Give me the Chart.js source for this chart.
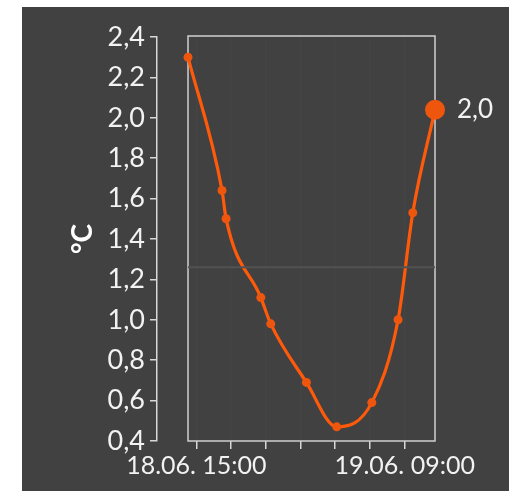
<!DOCTYPE html>
<html>
<head>
<meta charset="utf-8">
<script src="https://cdn.jsdelivr.net/npm/chart.js@4"></script>
<style>
  html, body { margin: 0; padding: 0; background: #fff; }
  #wrap { position: absolute; left: 22px; top: 7px; width: 487px; height: 484px; background: #414141; }
</style>
</head>
<body>
<div id="wrap"><canvas id="c" width="487" height="484"></canvas></div>
<script>
// hours since 18.06. 00:00
const times  = [14.28, 17.22, 17.57, 20.57, 21.43, 24.51, 27.13, 30.16, 32.43, 33.7, 35.62];
const temps  = [2.30, 1.64, 1.50, 1.11, 0.98, 0.69, 0.47, 0.59, 1.00, 1.53, 2.04];
const xTicks = [15, 18, 21, 24, 27, 30, 33];
const xTickLabels = { 15: '18.06. 15:00', 33: '19.06. 09:00' };
const yTicks = [0.4, 0.6, 0.8, 1.0, 1.2, 1.4, 1.6, 1.8, 2.0, 2.2, 2.4];
const refLine = 1.26;
const unit = '°C';

const FONT = 'Lato, "Noto Sans", sans-serif';
const comma = v => v.toFixed(1).replace('.', ',');

/* ---------- frame + last value label ---------- */
const decor = {
  id: 'decor',
  beforeDatasetsDraw(chart) {
    const { ctx, chartArea, scales: { x } } = chart;
    const l = x.getPixelForValue(times[0]);
    const r = x.getPixelForValue(times[times.length - 1]);
    ctx.save();
    ctx.strokeStyle = '#cfcfcf';
    ctx.lineWidth = 1.5;
    ctx.strokeRect(l, chartArea.top - 1, r - l, chartArea.bottom - chartArea.top + 1);
    ctx.restore();
  },
  afterDatasetsDraw(chart) {
    const { ctx } = chart;
    const meta = chart.getDatasetMeta(1);
    const pt = meta.data[meta.data.length - 1];
    ctx.save();
    ctx.fillStyle = '#f2f2f2';
    ctx.font = '400 26px ' + FONT;
    ctx.textBaseline = 'middle';
    ctx.fillText(comma(temps[temps.length - 1]), pt.x + 22, pt.y);
    ctx.restore();
  }
};

new Chart(document.getElementById('c'), {
  type: 'line',
  data: {
    datasets: [
      {
        data: [{ x: times[0], y: refLine }, { x: times[times.length - 1], y: refLine }],
        borderColor: '#525252', borderWidth: 2, pointRadius: 0
      },
      {
        data: times.map((t, i) => ({ x: t, y: temps[i] })),
        borderColor: '#ff5a0a', borderWidth: 3.2,
        cubicInterpolationMode: 'monotone',
        clip: false,
        pointBackgroundColor: '#ee560e', pointBorderWidth: 0,
        pointRadius: c => c.dataIndex === temps.length - 1 ? 10 : 4.5,
        pointHoverRadius: 0
      }
    ]
  },
  options: {
    responsive: false,
    animation: false,
    layout: { padding: { top: 30, right: 74, bottom: 0, left: 0 } },
    plugins: { legend: { display: false }, tooltip: { enabled: false } },
    scales: {
      x: {
        type: 'linear',
        min: 11.6, max: 35.62,
        afterBuildTicks: s => { s.ticks = xTicks.map(v => ({ value: v })); },
        border: { display: false },
        grid: { color: 'rgba(255,255,255,0.02)', tickColor: '#d8d8d8', tickLength: 8, lineWidth: 1.5 },
        ticks: {
          autoSkip: false, maxRotation: 0, padding: 2,
          color: '#f2f2f2', font: { family: FONT, size: 25 },
          callback: v => xTickLabels[v] || ''
        },
        afterFit: s => { s.height = 50; }
      },
      y: {
        min: 0.4, max: 2.4,
        afterBuildTicks: s => { s.ticks = yTicks.map(v => ({ value: v })); },
        border: { color: '#d8d8d8', width: 1.5 },
        grid: { drawOnChartArea: false, tickColor: '#d8d8d8', tickLength: 7, lineWidth: 1.5 },
        ticks: {
          padding: 5, color: '#f2f2f2', font: { family: FONT, size: 27 },
          callback: v => comma(v)
        },
        title: {
          display: true, text: unit, color: '#ffffff',
          font: { family: FONT, size: 28, weight: 'bold' },
          padding: { top: 44, bottom: 0 }
        },
        afterFit: s => { s.width = 135; }
      }
    }
  },
  plugins: [decor]
});
</script>
</body>
</html>
